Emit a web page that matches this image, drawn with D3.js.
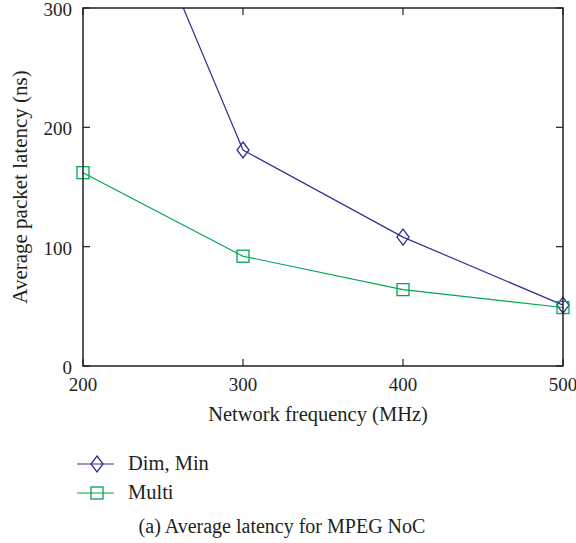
<!DOCTYPE html>
<head>
	<meta charset="utf-8">
	<script src="https://d3js.org/d3.v7.min.js"></script>
	<style>
		body { margin: 0; background: white; }
		text { font-family: "Liberation Serif", "DejaVu Serif", serif; fill: #231f20; }
	</style>
</head>
<body>
<script>
	// chart values
	var freqs = [200, 300, 400, 500];
	var dimMin = [500, 181, 108, 51];
	var multi = [162, 92, 64, 49];
	var xTicks = [200, 300, 400, 500];
	var yTicks = [0, 100, 200, 300];
	var seriesNames = ["Dim, Min", "Multi"];
	var seriesColors = ["#2e3192", "#00a651"];

	var W = 576, H = 543;
	var margin = {top: 8, right: 13, bottom: 177, left: 83};
	var w = W - margin.left - margin.right,
		h = H - margin.top - margin.bottom;

	var svg = d3.select("body").append("svg")
		.attr("width", W)
		.attr("height", H);

	var g = svg.append("g")
		.attr("transform", "translate(" + margin.left + "," + margin.top + ")");

	var x = d3.scaleLinear().domain([200, 500]).range([0, w]);
	var y = d3.scaleLinear().domain([0, 300]).range([h, 0]);

	g.append("clipPath").attr("id", "clip")
		.append("rect").attr("x", -10).attr("y", 0).attr("width", w + 20).attr("height", h + 10);

	// ticks (inward, mirrored)
	var tickLen = 7;
	var axisCol = "#231f20";
	xTicks.forEach(function(t) {
		g.append("line").attr("x1", x(t)).attr("x2", x(t)).attr("y1", h).attr("y2", h - tickLen)
			.attr("stroke", axisCol).attr("stroke-width", 1.2);
		g.append("line").attr("x1", x(t)).attr("x2", x(t)).attr("y1", 0).attr("y2", tickLen)
			.attr("stroke", axisCol).attr("stroke-width", 1.2);
		g.append("text").attr("x", x(t)).attr("y", h + 25)
			.attr("text-anchor", "middle").attr("font-size", 19).text(t);
	});
	yTicks.forEach(function(t) {
		g.append("line").attr("x1", 0).attr("x2", tickLen).attr("y1", y(t)).attr("y2", y(t))
			.attr("stroke", axisCol).attr("stroke-width", 1.2);
		g.append("line").attr("x1", w).attr("x2", w - tickLen).attr("y1", y(t)).attr("y2", y(t))
			.attr("stroke", axisCol).attr("stroke-width", 1.2);
		g.append("text").attr("x", -11).attr("y", y(t) + 8)
			.attr("text-anchor", "end").attr("font-size", 19).text(t);
	});

	var line = d3.line()
		.x(function(d, i) { return x(freqs[i]); })
		.y(function(d) { return y(d); });

	var plot = g.append("g").attr("clip-path", "url(#clip)");

	var diamond = function(s) {
		return "M0," + (-s) + "L" + (s * 0.75) + ",0L0," + s + "L" + (-s * 0.75) + ",0Z";
	};

	// Dim, Min
	plot.append("path").datum(dimMin).attr("d", line)
		.attr("fill", "none").attr("stroke", seriesColors[0]).attr("stroke-width", 1.2);
	plot.selectAll(".dm").data(dimMin).enter().append("path")
		.attr("d", diamond(8))
		.attr("transform", function(d, i) { return "translate(" + x(freqs[i]) + "," + y(d) + ")"; })
		.attr("fill", "none").attr("stroke", seriesColors[0]).attr("stroke-width", 1.3);

	// Multi
	plot.append("path").datum(multi).attr("d", line)
		.attr("fill", "none").attr("stroke", seriesColors[1]).attr("stroke-width", 1.2);
	plot.selectAll(".mu").data(multi).enter().append("rect")
		.attr("x", function(d, i) { return x(freqs[i]) - 6; })
		.attr("y", function(d) { return y(d) - 6; })
		.attr("width", 12).attr("height", 12)
		.attr("fill", "none").attr("stroke", seriesColors[1]).attr("stroke-width", 1.3);

	// frame
	g.append("rect").attr("width", w).attr("height", h)
		.attr("fill", "none").attr("stroke", axisCol).attr("stroke-width", 1.5);

	// axis labels
	svg.append("text").attr("x", 318).attr("y", 421)
		.attr("text-anchor", "middle").attr("font-size", 20.5).text("Network frequency (MHz)");
	svg.append("text")
		.attr("transform", "translate(27,187) rotate(-90)")
		.attr("text-anchor", "middle").attr("font-size", 21).text("Average packet latency (ns)");

	// legend
	var leg = svg.append("g").attr("transform", "translate(77,464)");
	seriesNames.forEach(function(name, i) {
		var row = leg.append("g").attr("transform", "translate(0," + (i * 29) + ")");
		row.append("line").attr("x1", 0).attr("x2", 37).attr("y1", 0).attr("y2", 0)
			.attr("stroke", seriesColors[i]).attr("stroke-width", 1.2);
		if (i === 0) {
			row.append("path").attr("d", diamond(8)).attr("transform", "translate(20,0)")
				.attr("fill", "none").attr("stroke", seriesColors[i]).attr("stroke-width", 1.3);
		} else {
			row.append("rect").attr("x", 14).attr("y", -6).attr("width", 12).attr("height", 12)
				.attr("fill", "none").attr("stroke", seriesColors[i]).attr("stroke-width", 1.3);
		}
		row.append("text").attr("x", 51).attr("y", 6).attr("font-size", 20.5).text(name);
	});

	// caption
	svg.append("text").attr("x", 282).attr("y", 533)
		.attr("text-anchor", "middle").attr("font-size", 20).text("(a) Average latency for MPEG NoC");
</script>
</body>
